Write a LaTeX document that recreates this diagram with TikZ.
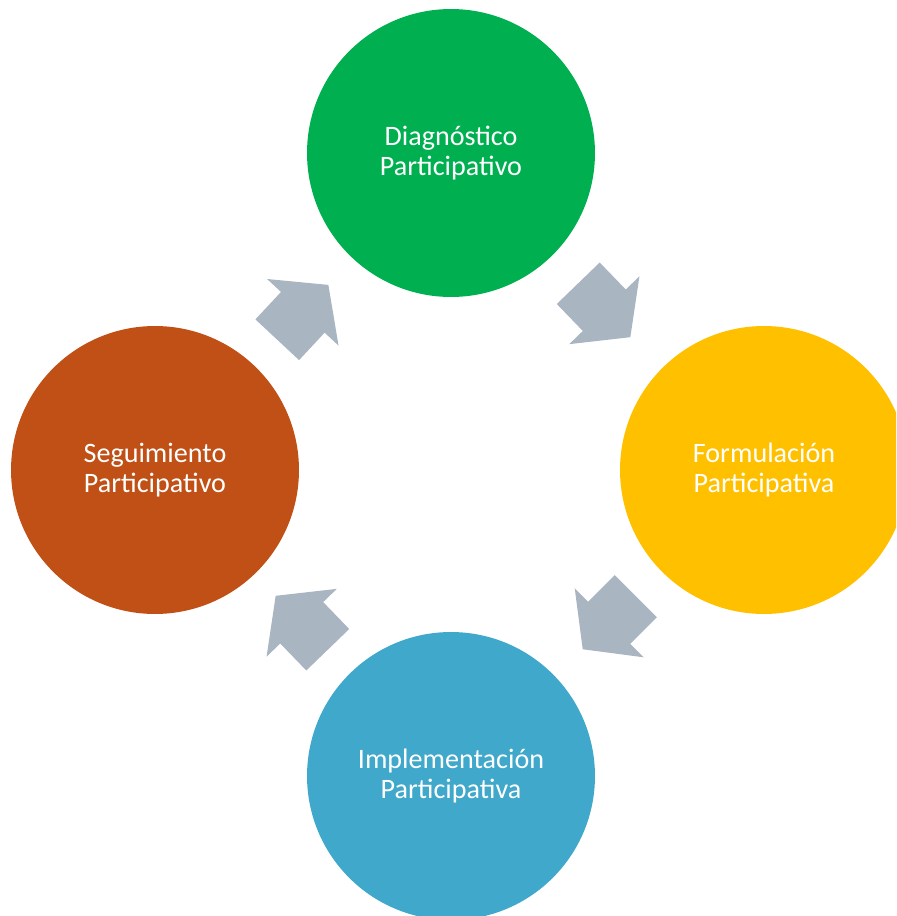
\documentclass[tikz,border=0pt]{standalone}
\usepackage{fontspec}
\setmainfont{Carlito}
\usetikzlibrary{shapes.arrows}
\definecolor{verde}{HTML}{00B050}
\definecolor{amarillo}{HTML}{FFC000}
\definecolor{celeste}{HTML}{40A8CB}
\definecolor{naranja}{HTML}{C05016}
\definecolor{flecha}{HTML}{AAB5C2}
\tikzset{
  etapa/.style={circle, minimum size=5.76cm, inner sep=0pt, text=white, align=center,
    font=\fontsize{16}{17}\selectfont},
  paso/.style={single arrow, fill=flecha, draw=none, inner xsep=0pt, inner ysep=0.59cm,
    minimum height=1.5cm, minimum width=1.94cm, anchor=tail,
    single arrow head extend=0.38cm, single arrow tip angle=105}
}
\begin{document}
\begin{tikzpicture}[x=0.02cm, y=-0.02cm]
            \useasboundingbox (0, 0) rectangle (896, 916);
            \clip (0, 0) rectangle (896, 916);
            % etapas
            \node [etapa, fill=verde] (diag) at (451, 153) {Diagn\'ostico\\Participativo};
            \node [etapa, fill=amarillo] (form) at (764, 470) {Formulaci\'on\\Participativa};
            \node [etapa, fill=celeste] (impl) at (451, 776) {Implementaci\'on\\Participativa};
            \node [etapa, fill=naranja] (segu) at (155, 470) {Seguimiento\\Participativo};
            % flechas
            \node [paso, rotate=47] (f1) at (277, 340) {};
            \node [paso, rotate=-46] (f2) at (578, 283) {};
            \node [paso, rotate=-135] (f3) at (636, 596) {};
            \node [paso, rotate=134] (f4) at (328, 650) {};
        \end{tikzpicture}
\end{document}
